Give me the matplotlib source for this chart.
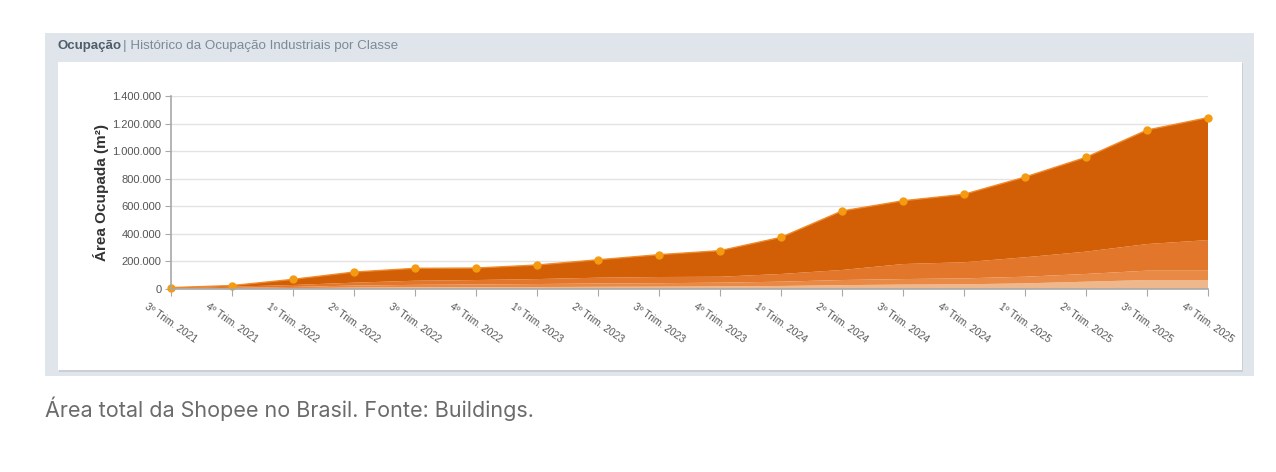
import matplotlib.pyplot as plt
from matplotlib.patches import Rectangle
from matplotlib.ticker import FuncFormatter, MultipleLocator

trimestres = [
    "3º Trim. 2021", "4º Trim. 2021",
    "1º Trim. 2022", "2º Trim. 2022", "3º Trim. 2022", "4º Trim. 2022",
    "1º Trim. 2023", "2º Trim. 2023", "3º Trim. 2023", "4º Trim. 2023",
    "1º Trim. 2024", "2º Trim. 2024", "3º Trim. 2024", "4º Trim. 2024",
    "1º Trim. 2025", "2º Trim. 2025", "3º Trim. 2025", "4º Trim. 2025",
]

# area por classe (m2), de baixo para cima
classe_d = [1000, 3000, 6000, 10000, 12000, 13000, 14000, 16000, 17000,
            19000, 22000, 28000, 32000, 34000, 41000, 53000, 65000, 65000]
classe_c = [2000, 5000, 9000, 15000, 18000, 20000, 22000, 24000, 25000,
            27000, 31000, 37000, 40000, 43000, 48000, 56000, 68000, 68000]
classe_b = [2000, 9000, 14000, 21000, 30000, 32000, 36000, 42000, 45000,
            43000, 56000, 73000, 109000, 117000, 141000, 162000, 193000, 222000]
classe_a = [5000, 8000, 41000, 77000, 90000, 87000, 102000, 130000, 162000,
            189000, 266000, 428000, 459000, 493000, 582000, 684000, 827000, 888000]

total = [a + b + c + d for a, b, c, d in zip(classe_a, classe_b, classe_c, classe_d)]
x = list(range(len(trimestres)))

W, H = 1276, 472
fig = plt.figure(figsize=(W / 100, H / 100), dpi=100)
fig.patch.set_facecolor("white")


def px_rect(x0, y0, x1, y1, **kw):
    # retangulo em pixels (origem no topo)
    r = Rectangle((x0 / W, 1 - y1 / H), (x1 - x0) / W, (y1 - y0) / H,
                  transform=fig.transFigure, **kw)
    fig.patches.append(r)


px_rect(45, 33, 1254, 376, facecolor="#dfe5ea", edgecolor="none", zorder=-3)
px_rect(59, 63, 1243, 372, facecolor="#c9cfd4", edgecolor="none", zorder=-2)
px_rect(58, 62, 1242, 370, facecolor="white", edgecolor="none", zorder=-1)

fig.text(58 / W, 1 - 46 / H, "Ocupação", fontsize=9.5, fontweight="bold",
         color="#4f5e6b", va="center", family="Liberation Sans")
fig.text(123 / W, 1 - 46 / H, "| Histórico da Ocupação Industriais por Classe",
         fontsize=9.6, color="#7b8a97", va="center", family="Liberation Sans")
fig.text(45 / W, 1 - 409 / H, "Área total da Shopee no Brasil. Fonte: Buildings.",
         fontsize=15.5, color="#6b6b6b", va="center", family="Inter")

ax = fig.add_axes([171 / W, 1 - 289 / H, (1208 - 171) / W, (289 - 96) / H])
ax.set_zorder(5)
ax.set_facecolor("none")

cores = ["#efb88c", "#e88a45", "#e2772c", "#d25e05"]
ax.stackplot(x, classe_d, classe_c, classe_b, classe_a, colors=cores,
             linewidth=0, zorder=2)
ax.plot(x, total, color="#f08a2a", linewidth=1, zorder=3)
ax.plot(x, total, "o", color="#f49b12", markersize=5, zorder=4, clip_on=False)

ax.set_xlim(0, len(x) - 1)
ax.set_ylim(0, 1400000)
ax.yaxis.set_major_locator(MultipleLocator(200000))
ax.yaxis.set_major_formatter(FuncFormatter(lambda v, p: f"{int(v):,}".replace(",", ".")))
ax.grid(axis="y", color="#e3e3e3", linewidth=1, zorder=1)
ax.set_axisbelow(True)

for s in ["top", "right"]:
    ax.spines[s].set_visible(False)
for s in ["left", "bottom"]:
    ax.spines[s].set_color("#a8a8a8")
    ax.spines[s].set_linewidth(1.2)
    ax.spines[s].set_zorder(5)

ax.set_xticks(x)
ax.set_xticklabels(trimestres, rotation=-35, ha="center", va="top",
                   rotation_mode="default", fontsize=7.4, color="#555555",
                   family="Liberation Sans")
ax.tick_params(axis="x", length=5, color="#a8a8a8", pad=4)
ax.tick_params(axis="y", length=4, color="#a8a8a8", labelsize=8,
               labelcolor="#555555", pad=3)
for t in ax.get_yticklabels():
    t.set_family("Liberation Sans")

ax.set_ylabel("Área Ocupada (m²)", fontsize=11, fontweight="bold",
              color="#333333", family="Liberation Sans", labelpad=2)

fig.savefig("out.png", dpi=100, facecolor="white")
